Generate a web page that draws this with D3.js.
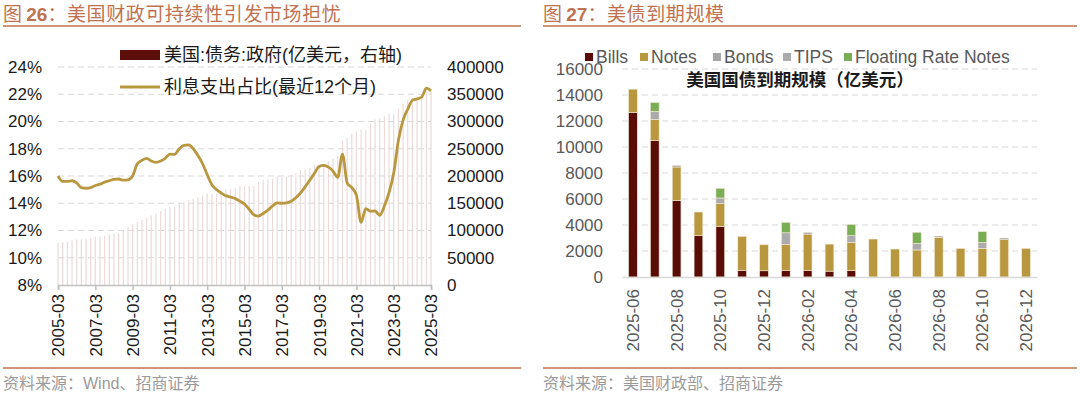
<!DOCTYPE html>
<html>
<head>
<meta charset="utf-8">
<script src="https://cdn.jsdelivr.net/npm/d3@7"></script>
<style>
  body { margin: 0; background: #fff; }
  svg { display: block; font-family: "Liberation Sans", "Noto Sans CJK SC", sans-serif; }
</style>
</head>
<body>
<svg id="chart" width="1080" height="396"></svg>
<script>
// ---- left chart data: quarterly, 2005-03 .. 2025-03 ----
const debtStart = '2005-03';
const debtValues = [
  77800, 78400, 79300, 81700,
  83700, 84200, 85100, 86800,
  88500, 88700, 90100, 92300,
  94400, 94900, 100200, 107000,
  111300, 115500, 119100, 123100,
  127700, 132000, 135600, 140300,
  142700, 143400, 147900, 152200,
  155800, 158600, 160700, 164300,
  167700, 167400, 167400, 173500,
  176000, 176300, 178200, 181400,
  181500, 181500, 181500, 189200,
  192600, 193800, 195700, 199800,
  198500, 198400, 202400, 204900,
  210900, 212000, 215200, 219700,
  220300, 220200, 227200, 232000,
  236900, 264800, 269500, 277500,
  281300, 285300, 284300, 296200,
  304000, 305700, 309300, 314200,
  314600, 323300, 331700, 340000,
  343000, 345000, 350000, 355000,
  356000
];
const interestShare = [
  16.0, 15.6, 15.6, 15.65,
  15.5, 15.15, 15.1, 15.15,
  15.3, 15.4, 15.55, 15.65,
  15.75, 15.78, 15.69, 15.72,
  16.0, 16.9, 17.15, 17.3,
  17.1, 17.0, 17.1, 17.3,
  17.6, 17.58, 18.0, 18.25,
  18.28, 18.0, 17.5, 16.9,
  16.1, 15.35, 15.0, 14.75,
  14.55, 14.46, 14.35, 14.15,
  13.95, 13.55, 13.15, 13.05,
  13.25, 13.5, 13.8, 14.03,
  14.0, 14.02, 14.15, 14.4,
  14.75, 15.2, 15.7, 16.2,
  16.7, 16.78, 16.65, 16.35,
  15.9, 17.6, 15.5, 15.15,
  14.6, 12.6, 13.6, 13.42,
  13.43, 13.12, 13.8, 14.8,
  16.2, 18.6, 20.1, 20.9,
  21.55, 21.65, 21.8, 22.45,
  22.25
];
const leftTicks = [8, 10, 12, 14, 16, 18, 20, 22, 24];
const rightTicks = [0, 50000, 100000, 150000, 200000, 250000, 300000, 350000, 400000];
const yearTicks = ['2005-03', '2007-03', '2009-03', '2011-03', '2013-03', '2015-03',
  '2017-03', '2019-03', '2021-03', '2023-03', '2025-03'];

// ---- right chart data ----
const months = ['2025-06', '2025-07', '2025-08', '2025-09', '2025-10', '2025-11', '2025-12',
  '2026-01', '2026-02', '2026-03', '2026-04', '2026-05', '2026-06', '2026-07', '2026-08',
  '2026-09', '2026-10', '2026-11', '2026-12'];
const bills = [12650, 10500, 5900, 3200, 3900, 500, 480, 500, 500, 450, 500, 0, 0, 0, 0, 0, 0, 0, 0];
const notes = [1800, 1630, 2560, 1800, 1740, 2630, 2000, 2000, 2800, 2080, 2170, 2920, 2150, 2080, 3050, 2200, 2200, 2870, 2200];
const bonds = [0, 0, 130, 0, 0, 0, 0, 0, 130, 0, 0, 0, 0, 0, 100, 0, 0, 130, 0];
const tips = [0, 620, 0, 0, 440, 0, 0, 900, 0, 0, 510, 0, 0, 510, 0, 0, 470, 0, 0];
const frn = [0, 670, 0, 0, 740, 0, 0, 800, 0, 0, 870, 0, 0, 850, 0, 0, 820, 0, 0];
const seriesNames = ['Bills', 'Notes', 'Bonds', 'TIPS', 'Floating Rate Notes'];
const seriesColors = ['#5a0d07', '#b9973f', '#a6a6a6', '#ababab', '#7aae55'];
const maturityTicks = [0, 2000, 4000, 6000, 8000, 10000, 12000, 14000, 16000];

const svg = d3.select('#chart');
const parseMonth = d3.timeParse('%Y-%m');
const titleColor = '#c0714f';

// header / footer for a panel
function drawFrame(x0, x1, num, title, source) {
  const t = svg.append('text').attr('x', x0).attr('y', 21)
    .attr('fill', titleColor).style('font-size', '19px');
  t.append('tspan').text('图 ').style('font-family', 'Noto Sans CJK SC');
  t.append('tspan').text(num).style('font-weight', 'bold');
  t.append('tspan').text('：' + title).style('font-family', 'Noto Sans CJK SC')
    .style('letter-spacing', '0.6px');
  svg.append('line').attr('x1', x0).attr('x2', x1).attr('y1', 26).attr('y2', 26)
    .attr('stroke', titleColor).attr('stroke-width', 1.5);
  svg.append('line').attr('x1', x0).attr('x2', x1).attr('y1', 368).attr('y2', 368)
    .attr('stroke', titleColor).attr('stroke-width', 1.5);
  svg.append('text').attr('x', x0).attr('y', 389).attr('fill', '#9a9a9a')
    .style('font-size', '16px').text(source);
}

drawFrame(3, 521, '26', '美国财政可持续性引发市场担忧', '资料来源：Wind、招商证券');
drawFrame(543, 1077, '27', '美债到期规模', '资料来源：美国财政部、招商证券');

// ================= left chart =================
const quarters = debtValues.map((d, i) => d3.timeMonth.offset(parseMonth(debtStart), i * 3));
const x = d3.scaleTime()
  .domain([parseMonth('2005-03'), parseMonth('2025-03')])
  .range([58, 431]);
const yL = d3.scaleLinear().domain([8, 24]).range([285, 67]);
const yR = d3.scaleLinear().domain([0, 400000]).range([285, 67]);

const gL = svg.append('g');

gL.append('g')
  .selectAll('line')
  .data(leftTicks.slice(1))
  .enter()
  .append('line')
  .attr('x1', 58).attr('x2', 431)
  .attr('y1', d => yL(d)).attr('y2', d => yL(d))
  .attr('stroke', '#d9d9d9')
  .attr('stroke-dasharray', '6,4');

gL.append('g')
  .selectAll('rect')
  .data(debtValues)
  .enter()
  .append('rect')
  .attr('x', (d, i) => x(quarters[i]) - 0.6)
  .attr('width', 1.2)
  .attr('y', d => yR(d))
  .attr('height', d => yR(0) - yR(d))
  .attr('fill', '#ebdada');

const line = d3.line()
  .x((d, i) => x(quarters[i]))
  .y(d => yL(d))
  .curve(d3.curveMonotoneX);

gL.append('path')
  .datum(interestShare)
  .attr('d', line)
  .attr('fill', 'none')
  .attr('stroke', '#b9973f')
  .attr('stroke-width', 2.8)
  .attr('stroke-linejoin', 'round');

const axL = gL.append('g').attr('transform', 'translate(58,0)')
  .call(d3.axisLeft(yL).tickValues(leftTicks).tickSize(0).tickPadding(16).tickFormat(d => d + '%'));
axL.select('.domain').remove();
axL.selectAll('text').style('font-size', '17px').attr('fill', '#1a1a1a');

const axR = gL.append('g').attr('transform', 'translate(431,0)')
  .call(d3.axisRight(yR).tickValues(rightTicks).tickSize(0).tickPadding(16).tickFormat(d3.format('d')));
axR.select('.domain').remove();
axR.selectAll('text').style('font-size', '17px').attr('fill', '#1a1a1a');

const axB = gL.append('g').attr('transform', 'translate(0,285)')
  .call(d3.axisBottom(x).tickValues(yearTicks.map(parseMonth)).tickSize(5)
    .tickFormat(d3.timeFormat('%Y-%m')));
axB.select('.domain').attr('stroke', '#bfbfbf').attr('stroke-width', 1.5);
axB.selectAll('.tick line').attr('stroke', '#bfbfbf').attr('stroke-width', 1.5);
axB.selectAll('text')
  .style('font-size', '17px').attr('fill', '#1a1a1a')
  .attr('transform', 'rotate(-90)')
  .attr('x', -9).attr('y', 0).attr('dy', '0.35em')
  .style('text-anchor', 'end');

// legend
gL.append('rect').attr('x', 120).attr('y', 50).attr('width', 40).attr('height', 10).attr('fill', '#5c0f0a');
gL.append('text').attr('x', 164).attr('y', 61).style('font-size', '18px').attr('fill', '#1a1a1a')
  .text('美国:债务:政府(亿美元，右轴)');
gL.append('line').attr('x1', 120).attr('x2', 160).attr('y1', 87).attr('y2', 87)
  .attr('stroke', '#b9973f').attr('stroke-width', 3);
gL.append('text').attr('x', 164).attr('y', 93).style('font-size', '18px').attr('fill', '#1a1a1a')
  .text('利息支出占比(最近12个月)');

// ================= right chart =================
const rows = months.map((m, i) => ({
  month: m, Bills: bills[i], Notes: notes[i], Bonds: bonds[i], TIPS: tips[i],
  'Floating Rate Notes': frn[i]
}));
const stacked = d3.stack().keys(seriesNames)(rows);

const xb = d3.scaleBand().domain(months).range([622, 1037]).paddingInner(0.6).paddingOuter(0.3);
const yb = d3.scaleLinear().domain([0, 16000]).range([277, 69]);

const gR = svg.append('g');

gR.append('g')
  .selectAll('line')
  .data(maturityTicks.slice(1))
  .enter()
  .append('line')
  .attr('x1', 622).attr('x2', 1037)
  .attr('y1', d => yb(d)).attr('y2', d => yb(d))
  .attr('stroke', '#d9d9d9')
  .attr('stroke-dasharray', '6,4');

gR.append('g')
  .selectAll('g')
  .data(stacked)
  .enter()
  .append('g')
  .attr('fill', (d, i) => seriesColors[i])
  .selectAll('rect')
  .data(d => d.filter(p => p[1] > p[0]))
  .enter()
  .append('rect')
  .attr('x', d => xb(d.data.month))
  .attr('width', xb.bandwidth())
  .attr('y', d => yb(d[1]))
  .attr('height', d => yb(d[0]) - yb(d[1]))
  .attr('stroke', '#f3ead8')
  .attr('stroke-width', 0.6);

const axY = gR.append('g').attr('transform', 'translate(622,0)')
  .call(d3.axisLeft(yb).tickValues(maturityTicks).tickSize(0).tickPadding(19).tickFormat(d3.format('d')));
axY.select('.domain').remove();
axY.selectAll('text').style('font-size', '17px').attr('fill', '#595959');

const axX = gR.append('g').attr('transform', 'translate(0,277)')
  .call(d3.axisBottom(xb).tickValues(months.filter((m, i) => i % 2 === 0)).tickSize(0));
axX.select('.domain').attr('stroke', '#d9d9d9').attr('stroke-width', 1.5);
axX.selectAll('text')
  .style('font-size', '17px').attr('fill', '#595959')
  .attr('transform', 'rotate(-90)')
  .attr('x', -12).attr('y', 0).attr('dy', '0.35em')
  .style('text-anchor', 'end');

// legend
const legendX = [585, 640, 713, 783, 844];
const lg = gR.append('g')
  .selectAll('g')
  .data(seriesNames)
  .enter()
  .append('g')
  .attr('transform', (d, i) => `translate(${legendX[i]},0)`);
lg.append('rect').attr('x', 0).attr('y', 53).attr('width', 8).attr('height', 8)
  .attr('fill', (d, i) => seriesColors[i]);
lg.append('text').attr('x', 11).attr('y', 63).style('font-size', '17.5px').attr('fill', '#595959')
  .text(d => d);

gR.append('text').attr('x', 800).attr('y', 86).attr('text-anchor', 'middle')
  .style('font-size', '17.5px').style('font-weight', 'bold').style('font-family', 'Noto Sans CJK SC')
  .attr('fill', '#1a1a1a').text('美国国债到期规模（亿美元）');
</script>
</body>
</html>
